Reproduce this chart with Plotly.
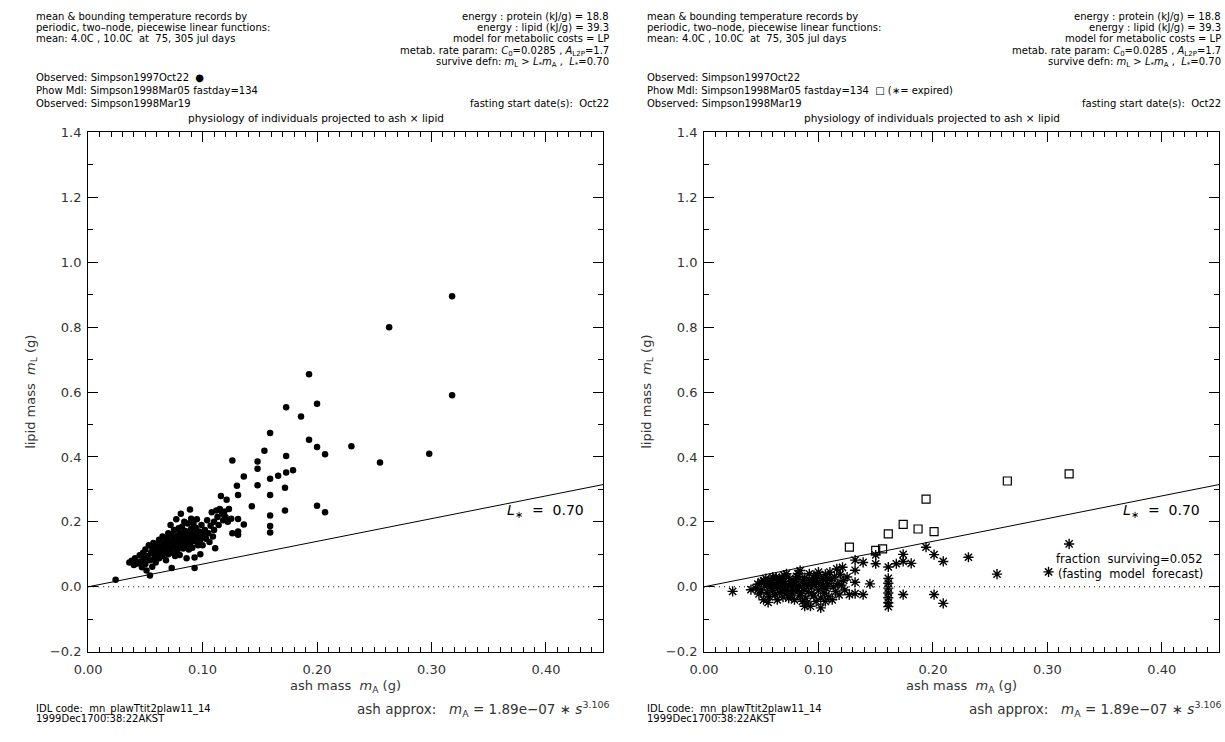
import plotly.graph_objects as go

# ---------------- data ----------------
# Left panel: observed individuals (ash mass g, lipid mass g)
obs_ash = [0.024, 0.054, 0.073, 0.093,
    0.036, 0.038, 0.040, 0.041, 0.043, 0.045, 0.046, 0.047, 0.048, 0.049,
    0.050, 0.050, 0.051, 0.052, 0.053, 0.054, 0.055, 0.056, 0.056, 0.057, 0.058, 0.058, 0.059, 0.060, 0.060,
    0.061, 0.062, 0.062, 0.063, 0.064, 0.065, 0.065, 0.066, 0.067, 0.067, 0.068, 0.069, 0.069, 0.070, 0.070, 0.070,
    0.071, 0.072, 0.072, 0.073, 0.073, 0.074, 0.075, 0.075, 0.076, 0.076, 0.077, 0.077, 0.078, 0.078, 0.079, 0.079, 0.080, 0.080, 0.080,
    0.081, 0.081, 0.082, 0.082, 0.083, 0.083, 0.084, 0.084, 0.085, 0.085, 0.086, 0.086, 0.087, 0.087, 0.088, 0.088, 0.089, 0.089, 0.090, 0.090, 0.090,
    0.091, 0.092, 0.092, 0.093, 0.093, 0.094, 0.095, 0.095, 0.096, 0.097, 0.098, 0.098, 0.099, 0.100, 0.100,
    0.102, 0.103, 0.104, 0.105, 0.106, 0.107, 0.108, 0.109, 0.110, 0.110,
    0.111, 0.112, 0.113, 0.114, 0.115, 0.116, 0.117, 0.118, 0.119, 0.120, 0.121, 0.122, 0.123, 0.125,
    0.126, 0.126, 0.130, 0.131, 0.131, 0.131, 0.131, 0.136, 0.136, 0.143, 0.148, 0.148, 0.148, 0.154,
    0.159, 0.159, 0.159, 0.159, 0.159, 0.159, 0.166, 0.173, 0.173, 0.173, 0.172, 0.172, 0.179, 0.186,
    0.193, 0.193, 0.200, 0.200, 0.200, 0.207, 0.207, 0.230, 0.255, 0.263, 0.298, 0.318, 0.318]
obs_lipid = [0.022, 0.035, 0.058, 0.058,
    0.075, 0.080, 0.067, 0.088, 0.072, 0.097, 0.078, 0.060, 0.105, 0.088,
    0.070, 0.115, 0.050, 0.095, 0.128, 0.082, 0.105, 0.120, 0.062, 0.135, 0.092, 0.112, 0.075, 0.130, 0.100,
    0.118, 0.145, 0.088, 0.108, 0.128, 0.095, 0.155, 0.120, 0.138, 0.110, 0.082, 0.125, 0.150, 0.100, 0.165, 0.132,
    0.118, 0.142, 0.190, 0.105, 0.160, 0.128, 0.175, 0.148, 0.095, 0.120, 0.135, 0.208, 0.158, 0.112, 0.180, 0.142, 0.125, 0.165, 0.098,
    0.150, 0.225, 0.135, 0.185, 0.118, 0.165, 0.145, 0.200, 0.128, 0.172, 0.155, 0.088, 0.140, 0.195, 0.115, 0.162, 0.238, 0.132, 0.178, 0.150, 0.210,
    0.120, 0.165, 0.195, 0.140, 0.090, 0.182, 0.155, 0.208, 0.128, 0.170, 0.145, 0.100, 0.190, 0.160, 0.128,
    0.175, 0.148, 0.205, 0.165, 0.138, 0.188, 0.230, 0.155, 0.200, 0.175,
    0.119, 0.235, 0.215, 0.190, 0.240, 0.280, 0.225, 0.205, 0.232, 0.215, 0.268, 0.200, 0.240, 0.210,
    0.389, 0.165, 0.311, 0.283, 0.209, 0.170, 0.160, 0.340, 0.192, 0.248, 0.386, 0.364, 0.313, 0.419,
    0.474, 0.333, 0.283, 0.220, 0.187, 0.167, 0.342, 0.553, 0.403, 0.352, 0.305, 0.235, 0.359, 0.525,
    0.655, 0.453, 0.564, 0.431, 0.250, 0.408, 0.230, 0.433, 0.383, 0.800, 0.410, 0.895, 0.590]

# Right panel: fasting-model forecast, survivors (squares)
surv_ash = [0.127, 0.150, 0.156, 0.161, 0.174, 0.187, 0.194, 0.201, 0.265, 0.319]
surv_lipid = [0.122, 0.112, 0.117, 0.163, 0.192, 0.178, 0.270, 0.170, 0.326, 0.348]

# Right panel: expired individuals (asterisks)
exp_ash = [0.025, 0.041,
    0.045, 0.047, 0.048, 0.050, 0.050, 0.052, 0.053, 0.054, 0.055, 0.056, 0.057, 0.058, 0.059, 0.060,
    0.061, 0.062, 0.063, 0.064, 0.065, 0.066, 0.067, 0.068, 0.069, 0.070, 0.071, 0.072, 0.073, 0.074,
    0.075, 0.076, 0.077, 0.078, 0.079, 0.080, 0.081, 0.082, 0.083, 0.084, 0.085, 0.086, 0.087, 0.088,
    0.089, 0.090, 0.091, 0.092, 0.093, 0.094, 0.095, 0.096, 0.097, 0.098, 0.099, 0.100, 0.101, 0.102,
    0.103, 0.104, 0.105, 0.106, 0.107, 0.108, 0.109, 0.110, 0.111, 0.112, 0.113, 0.114, 0.115, 0.116,
    0.117, 0.118, 0.119, 0.120, 0.121, 0.122, 0.123, 0.125,
    0.058, 0.062, 0.066, 0.068, 0.070, 0.072, 0.074, 0.076, 0.078, 0.080, 0.082, 0.084, 0.086, 0.088,
    0.090, 0.092, 0.094, 0.096, 0.098, 0.100, 0.102, 0.104, 0.106, 0.108, 0.060, 0.064, 0.056, 0.052,
    0.070, 0.088,
    0.127, 0.132, 0.132, 0.132, 0.132, 0.139, 0.139, 0.145, 0.150, 0.150, 0.161, 0.161, 0.161, 0.161,
    0.161, 0.161, 0.161, 0.161, 0.168, 0.174, 0.174, 0.181, 0.174, 0.194, 0.201, 0.209, 0.231, 0.256,
    0.319, 0.301, 0.201, 0.209]
exp_lipid = [-0.014, -0.009,
    -0.005, 0.008, -0.022, 0.015, -0.010, -0.040, 0.002, 0.025, -0.018, 0.010, -0.030, 0.000, 0.020, -0.012,
    0.005, -0.025, 0.030, -0.005, 0.012, -0.018, 0.002, 0.022, -0.032, -0.008, 0.010, 0.040, -0.015, 0.004,
    0.025, -0.025, -0.002, 0.015, -0.040, 0.008, 0.032, -0.012, 0.002, 0.050, -0.020, 0.018, -0.005, 0.028,
    -0.035, 0.010, -0.015, 0.040, -0.060, 0.000, 0.020, -0.028, 0.008, -0.045, 0.030, -0.010, 0.015, -0.065,
    0.000, 0.025, -0.020, 0.038, -0.005, 0.010, -0.030, 0.045, 0.020, -0.040, 0.000, 0.030, -0.015, 0.055,
    0.010, -0.025, 0.038, 0.005, 0.060, 0.020, -0.010, 0.030,
    0.012, 0.008, 0.025, -0.008, 0.018, -0.020, -0.035, 0.008, -0.012, 0.022, 0.040, -0.028, -0.045, 0.005,
    -0.050, 0.020, -0.020, 0.035, 0.012, 0.045, -0.035, 0.005, -0.045, 0.028, 0.030, -0.040, -0.048, 0.018,
    0.035, -0.060,
    -0.024, 0.082, 0.051, 0.014, -0.021, 0.075, -0.024, 0.009, 0.098, 0.071, 0.061, 0.026, 0.011, -0.004,
    -0.019, -0.034, -0.049, -0.061, 0.071, 0.100, 0.078, 0.072, -0.024, 0.122, 0.099, 0.078, 0.091, 0.039,
    0.132, 0.046, -0.024, -0.051]

L_STAR = 0.70
X_RANGE = [0.0, 0.45]
Y_RANGE = [-0.2, 1.4]
line_x = [0.0, 0.45]

# ---------------- figure ----------------
W, H = 1225, 742
FONT = "DejaVu Sans"
def PX(x): return x / W
def PY(y): return 1 - y / H

fig = go.Figure()

# left panel
fig.add_trace(go.Scatter(x=line_x, y=[L_STAR * v for v in line_x], mode="lines",
                         line=dict(color="black", width=1), xaxis="x", yaxis="y", showlegend=False))
fig.add_trace(go.Scatter(x=line_x, y=[0, 0], mode="lines",
                         line=dict(color="black", width=1, dash="1px,4px"), xaxis="x", yaxis="y", showlegend=False))
fig.add_trace(go.Scatter(x=obs_ash, y=obs_lipid, mode="markers",
                         marker=dict(symbol="circle", size=6.5, color="black"),
                         xaxis="x", yaxis="y", showlegend=False))

# right panel
fig.add_trace(go.Scatter(x=line_x, y=[L_STAR * v for v in line_x], mode="lines",
                         line=dict(color="black", width=1), xaxis="x2", yaxis="y2", showlegend=False))
fig.add_trace(go.Scatter(x=line_x, y=[0, 0], mode="lines",
                         line=dict(color="black", width=1, dash="1px,4px"), xaxis="x2", yaxis="y2", showlegend=False))
fig.add_trace(go.Scatter(x=exp_ash, y=exp_lipid, mode="markers",
                         marker=dict(symbol="asterisk-open", size=8.5, color="black",
                                     line=dict(color="black", width=1.4)),
                         xaxis="x2", yaxis="y2", showlegend=False))
fig.add_trace(go.Scatter(x=surv_ash, y=surv_lipid, mode="markers",
                         marker=dict(symbol="square-open", size=8, color="black",
                                     line=dict(color="black", width=1.2)),
                         xaxis="x2", yaxis="y2", showlegend=False))

panels = [(75, 596), (698, 1219)]
ydom = [PY(658), PY(128)]

def xax(dom):
    return dict(domain=dom, range=X_RANGE, dtick=0.1, tick0=0, tickformat=".2f",
                showline=True, linecolor="black", linewidth=1, mirror="allticks",
                ticks="inside", ticklen=10, tickcolor="black", tickwidth=1,
                ticklabelstandoff=6,
                minor=dict(ticks="inside", ticklen=5, dtick=0.01, tickcolor="black", tickwidth=1),
                showgrid=False, zeroline=False,
                tickfont=dict(family=FONT, size=13, color="#333"))

def yax(anchor):
    return dict(domain=ydom, range=Y_RANGE, dtick=0.2, tick0=0, tickformat=".1f",
                anchor=anchor,
                showline=True, linecolor="black", linewidth=1, mirror="allticks",
                ticks="inside", ticklen=10, tickcolor="black", tickwidth=1,
                ticklabelstandoff=3,
                minor=dict(ticks="inside", ticklen=5, dtick=0.1, tickcolor="black", tickwidth=1),
                showgrid=False, zeroline=False,
                tickfont=dict(family=FONT, size=13, color="#333"))

fig.update_layout(
    width=W, height=H, margin=dict(l=0, r=0, t=0, b=0),
    paper_bgcolor="white", plot_bgcolor="white",
    xaxis=dict(**xax([PX(panels[0][0]), PX(panels[0][1])]), anchor="y"),
    yaxis=yax("x"),
    xaxis2=dict(**xax([PX(panels[1][0]), PX(panels[1][1])]), anchor="y2"),
    yaxis2=yax("x2"),
    font=dict(family=FONT, color="black"),
)

ann = []
def text(px, py, s, size=10, xanchor="left", color="black", angle=0):
    ann.append(dict(x=PX(px), y=PY(py), xref="paper", yref="paper", text=s, showarrow=False,
                    xanchor=xanchor, yanchor="middle", textangle=angle,
                    font=dict(family=FONT, size=size, color=color)))

for i, (x0, x1) in enumerate(panels):
    tx = 20 + 618 * i
    rx = min(x1 + 8, 1223)
    cx = (x0 + x1) / 2
    text(tx, 10, "mean &amp; bounding temperature records by")
    text(tx, 21, "periodic, two\u2013node, piecewise linear functions:")
    text(tx, 32, "mean: 4.0C , 10.0C  at  75, 305 jul days")
    text(rx, 10, "energy : protein (kJ/g) = 18.8", xanchor="right")
    text(rx, 21, "energy : lipid (kJ/g) = 39.3", xanchor="right")
    text(rx, 32, "model for metabolic costs = LP", xanchor="right")
    text(rx, 45, "metab. rate param: <i>C</i><sub>0</sub>=0.0285 , <i>A</i><sub>L2P</sub>=1.7", xanchor="right")
    text(rx, 57, "survive defn: <i>m</i><sub>L</sub> &gt; <i>L</i><sub>*</sub><i>m</i><sub>A</sub> ,  <i>L</i><sub>*</sub>=0.70", xanchor="right")
    if i == 0:
        text(tx, 72, "Observed: Simpson1997Oct22  \u25cf")
        text(tx, 85, "Phow Mdl: Simpson1998Mar05 fastday=134")
    else:
        text(tx, 72, "Observed: Simpson1997Oct22")
        text(tx, 85, "Phow Mdl: Simpson1998Mar05 fastday=134  \u25a1 (\u2217= expired)")
    text(tx, 99, "Observed: Simpson1998Mar19")
    text(rx, 99, "fasting start date(s):  Oct22", xanchor="right")
    text(cx - 30, 113, "physiology of individuals projected to ash \u00d7 lipid", size=10.5, xanchor="center")
    text(cx, 694, "ash mass  <i>m</i><sub>A</sub> (g)", size=13, xanchor="center", color="#333")
    text(x0 - 58, (128 + 658) / 2, "lipid mass  <i>m</i><sub>L</sub> (g)", size=13, xanchor="center",
         color="#333", angle=-90)
    text(tx, 716, "IDL code:  mn_plawTtit2plaw11_14", size=10)
    text(tx, 726, "1999Dec1700:38:22AKST", size=10)
    text(rx, 716, "ash approx:   <i>m</i><sub>A</sub> = 1.89e\u221207 \u2217 <i>s</i><sup>3.106</sup>",
         size=13.5, xanchor="right", color="#333")

# in-plot labels (data coordinates)
for xr, yr in (("x", "y"), ("x2", "y2")):
    ann.append(dict(x=0.435, y=0.232, xref=xr, yref=yr, showarrow=False, xanchor="right",
                    yanchor="middle", text="<i>L</i><sub>\u2217</sub>  =  0.70",
                    font=dict(family=FONT, size=14, color="black")))
ann.append(dict(x=0.437, y=0.085, xref="x2", yref="y2", showarrow=False, xanchor="right",
                yanchor="middle", text="fraction  surviving=0.052", borderpad=0,
                font=dict(family=FONT, size=11.5, color="black")))
ann.append(dict(x=0.437, y=0.040, xref="x2", yref="y2", showarrow=False, xanchor="right",
                yanchor="middle", text="(fasting  model  forecast)", borderpad=0,
                font=dict(family=FONT, size=11.5, color="black")))

fig.update_layout(annotations=ann)
fig.write_html("out.html")
